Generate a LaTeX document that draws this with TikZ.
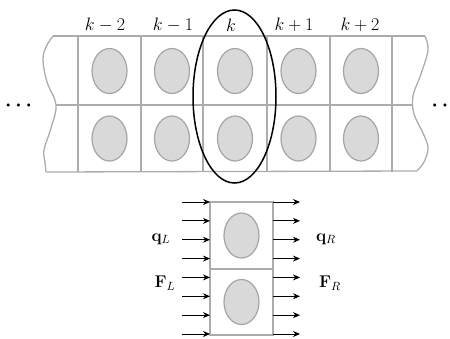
\documentclass[tikz,border=0pt]{standalone}
\usepackage{fix-cm}
\usetikzlibrary{arrows.meta,shapes.geometric}
\definecolor{gridgray}{RGB}{172,172,172}
\definecolor{cellfill}{RGB}{217,217,217}
\definecolor{celledge}{RGB}{165,165,165}
\tikzset{
  gridline/.style={draw=gridgray,line width=1.3pt},
  blob/.style={ellipse,draw=celledge,fill=cellfill,line width=1.2pt,minimum width=35pt,minimum height=45pt,inner sep=0pt},
  klabel/.style={inner sep=0pt,font=\fontsize{18}{21}\selectfont},
  flabel/.style={inner sep=0pt,font=\fontsize{17}{20}\selectfont},
  dotlabel/.style={inner sep=0pt,anchor=base,font=\fontsize{20}{23}\selectfont\boldmath},
  flux/.style={draw=black,line width=0.9pt,-{Stealth[length=7pt,width=6pt]}}
}
\begin{document}
\begin{tikzpicture}[x=1pt,y=-1pt]
\useasboundingbox (0,0) rectangle (450,338);
% ---- top strip ----
\draw[gridline] (53,36) -- (425,36);
\draw[gridline] (56,105) -- (413,105);
\draw[gridline] (46,172) -- (417,171);
\foreach \x in {78,141,203,267,330,392}{\draw[gridline] (\x,36) -- (\x,172);}
\draw[gridline] plot[smooth,tension=0.6] coordinates {(53,36) (46,47) (43,60) (47,82) (56,105) (51,128) (44,150) (45,162) (46,172)};
\draw[gridline] plot[smooth,tension=0.6] coordinates {(425,36) (428,50) (421,74) (413,96) (414,114) (423,133) (428,148) (424,162) (417,171)};
% cells
\foreach \c/\x in {a/109.5,b/172,c/235,d/298.5,e/361}{
  \node[blob] (\c1) at (\x,71) {};
  \node[blob] (\c2) at (\x,138.5) {};
}
% labels
\node[klabel] (lkm2) at (105,25) {$k-2$};
\node[klabel] (lkm1) at (173,25) {$k-1$};
\node[klabel] (lk)   at (231,25) {$k$};
\node[klabel] (lkp1) at (294,25) {$k+1$};
\node[klabel] (lkp2) at (360,25) {$k+2$};
\node[dotlabel] (dl) at (18.5,110) {$\cdots$};
\node[dotlabel] (dr) at (445,110) {$\cdots$};
% highlight
\draw[line width=1.5pt] (234.5,96.5) ellipse [x radius=41.5, y radius=86.5];
% ---- bottom single column ----
\draw[gridline] (210,202) rectangle (273,335);
\draw[gridline] (210,269) -- (273,269);
\node[blob] (bu) at (241.5,235.5) {};
\node[blob] (bl) at (241.5,302) {};
\foreach \i in {0,...,7}{
  \coordinate (la\i) at (182,202+\i*18.857);
  \coordinate (lb\i) at (210,202+\i*18.857);
  \coordinate (ra\i) at (273,202+\i*18.857);
  \coordinate (rb\i) at (300,202+\i*18.857);
  \draw[flux] (la\i) -- (lb\i);
  \draw[flux] (ra\i) -- (rb\i);
}
\node[flabel] (qL) at (161,239) {$\mathbf{q}_L$};
\node[flabel] (FL) at (165,283) {$\mathbf{F}_L$};
\node[flabel] (qR) at (326,239) {$\mathbf{q}_R$};
\node[flabel] (FR) at (330,283) {$\mathbf{F}_R$};
\end{tikzpicture}
\end{document}
